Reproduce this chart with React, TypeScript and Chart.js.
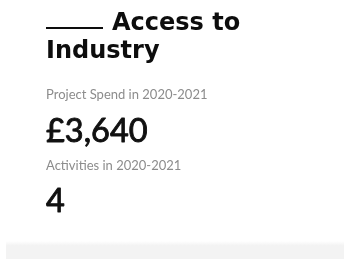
import React, { useEffect, useRef } from "react";
import { Chart, registerables } from "chart.js";

Chart.register(...registerables);

const titleLines = ["Access to", "Industry"];
const metricLabels = ["Project Spend in 2020-2021", "Activities in 2020-2021"];
const metricValues = ["£3,640", "4"];

const cardPlugin = {
  id: "cardText",
  afterDraw(chart: any) {
    const ctx = chart.ctx as CanvasRenderingContext2D;
    ctx.save();
    ctx.textBaseline = "alphabetic";
    ctx.textAlign = "left";
    const x0 = 46;
    // title
    ctx.fillStyle = "#0d0d0d";
    ctx.font = "bold 24px 'DejaVu Sans'";
    ctx.fillRect(x0, 27, 57, 2);
    ctx.fillText(titleLines[0], 112, 30);
    ctx.fillText(titleLines[1], x0, 58);
    // metrics
    const labelY = [99, 170];
    const valueY = [142, 212];
    metricLabels.forEach((l, i) => {
      ctx.fillStyle = "#8c8c8c";
      ctx.font = "400 13px Lato";
      ctx.fillText(l, x0, labelY[i]);
      ctx.fillStyle = "#111111";
      ctx.strokeStyle = "#111111";
      ctx.lineWidth = 0.9;
      ctx.lineJoin = "round";
      ctx.font = "400 32.5px Lato";
      ctx.fillText(metricValues[i], x0, valueY[i]);
      ctx.strokeText(metricValues[i], x0, valueY[i]);
    });
    // bottom band
    const g = ctx.createLinearGradient(0, 241, 0, 246);
    g.addColorStop(0, "#ffffff");
    g.addColorStop(1, "#f2f2f2");
    ctx.fillStyle = g;
    ctx.fillRect(6, 241, 338, 5);
    ctx.fillStyle = "#f3f3f3";
    ctx.fillRect(6, 246, 338, 13);
    ctx.restore();
  },
};

export default function App() {
  const ref = useRef<HTMLCanvasElement>(null);
  useEffect(() => {
    if (!ref.current) return;
    const chart = new Chart(ref.current, {
      type: "bar",
      data: { labels: metricLabels, datasets: [{ data: [], label: "" }] },
      options: {
        animation: false,
        responsive: false,
        devicePixelRatio: 1,
        plugins: { legend: { display: false }, tooltip: { enabled: false } },
        scales: { x: { display: false }, y: { display: false } },
      },
      plugins: [cardPlugin],
    });
    return () => chart.destroy();
  }, []);
  return (
    <div style={{ position: "fixed", left: 0, top: 0, width: 344, height: 259, background: "#fff" }}>
      <canvas ref={ref} width={344} height={259} style={{ display: "block", width: 344, height: 259 }} />
    </div>
  );
}
